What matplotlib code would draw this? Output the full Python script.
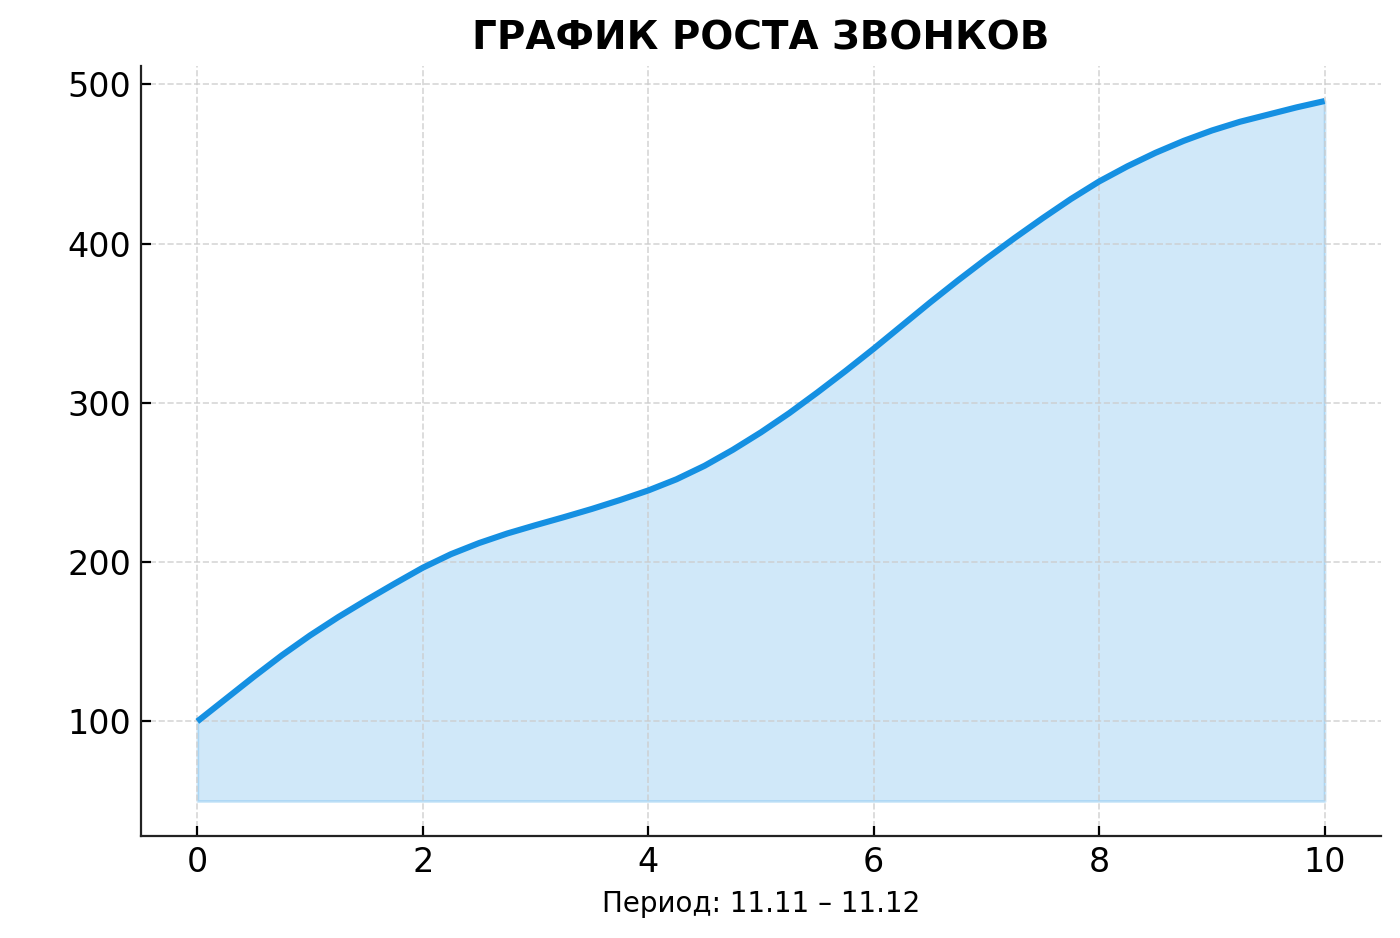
import matplotlib.pyplot as plt

# Data (step 0.25)
days = [0, 0.25, 0.5, 0.75, 1, 1.25, 1.5, 1.75, 2, 2.25, 2.5, 2.75, 3, 3.25,
        3.5, 3.75, 4, 4.25, 4.5, 4.75, 5, 5.25, 5.5, 5.75, 6, 6.25, 6.5,
        6.75, 7, 7.25, 7.5, 7.75, 8, 8.25, 8.5, 8.75, 9, 9.25, 9.5, 9.75, 10]
calls = [100, 114, 128, 141.5, 154, 165.5, 176.2, 186.5, 196.5, 205, 212,
         218, 223.2, 228.2, 233.4, 239, 245, 252, 260.5, 270.5, 281.5,
         293.5, 306.5, 320, 334, 348.5, 363, 377, 390.5, 403.5, 416, 428,
         439, 448.5, 457, 464.5, 471, 476.5, 481, 485.5, 489.5]
base = 50

line_color = '#1590e2'

fig, ax = plt.subplots(figsize=(7, 4.69), dpi=200)
fig.subplots_adjust(left=0.1007, right=0.9864, top=0.9296, bottom=0.1087)

ax.plot(days, calls, color=line_color, linewidth=2.2, solid_capstyle='butt',
        solid_joinstyle='round')
ax.fill_between(days, calls, base, color=line_color, alpha=0.2)

ax.set_title('ГРАФИК РОСТА ЗВОНКОВ', fontsize=14, fontweight='bold')
ax.set_xlabel('Период: 11.11 – 11.12', fontsize=10)
ax.set_xticks([0, 2, 4, 6, 8, 10])
ax.set_yticks([100, 200, 300, 400, 500])
ax.tick_params(labelsize=12, direction='in')

ax.grid(True, linestyle='--', color='#cccccc', linewidth=0.6, alpha=0.8)
ax.spines['top'].set_visible(False)
ax.spines['right'].set_visible(False)
for s in ('left', 'bottom'):
    ax.spines[s].set_color('#222222')

plt.savefig('out.png', dpi=200)
